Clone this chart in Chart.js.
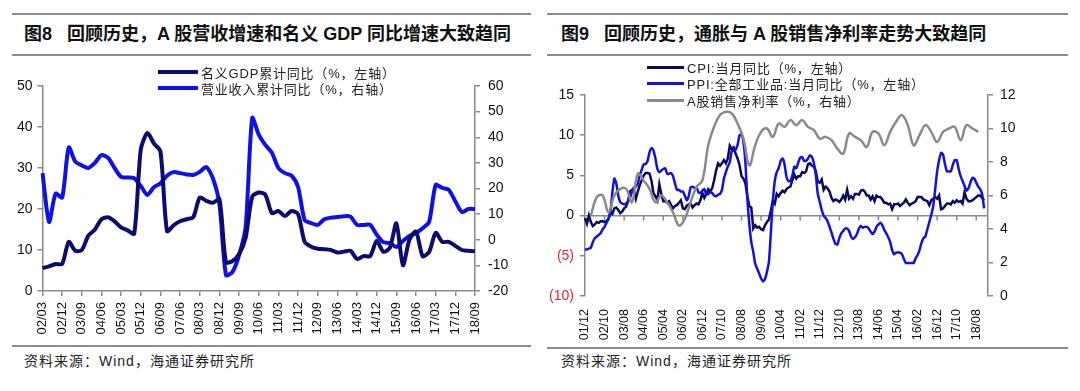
<!DOCTYPE html>
<html><head><meta charset="utf-8">
<script src="https://cdn.jsdelivr.net/npm/chart.js@4.4.1/dist/chart.umd.min.js"></script>
<style>
html,body{margin:0;padding:0;background:#fff;}
body{width:1080px;height:391px;position:relative;overflow:hidden;font-family:"Liberation Sans","Noto Sans CJK SC",sans-serif;}
.rule{position:absolute;height:2px;background:#8c8c8c;}
.title{position:absolute;font-weight:bold;font-size:18px;line-height:22px;color:#111;white-space:nowrap;}
.src{position:absolute;font-size:14px;line-height:18px;color:#222;white-space:nowrap;letter-spacing:1px;}
.lg{position:absolute;height:16px;display:flex;align-items:center;font-size:13px;color:#222;white-space:nowrap;letter-spacing:0.8px;font-family:"Liberation Sans","Noto Sans CJK SC",sans-serif;}
.sw{display:inline-block;margin-right:3px;}
.cw{position:absolute;top:56px;width:540px;height:290px;}
</style></head>
<body>
<div class="rule" style="left:12px;top:13px;width:519px"></div>
<div class="rule" style="left:12px;top:54px;width:519px"></div>
<div class="title" style="left:24px;top:23px">图8&nbsp;&nbsp;&nbsp;回顾历史，A 股营收增速和名义 GDP 同比增速大致趋同</div>
<div class="rule" style="left:547px;top:13px;width:521px"></div>
<div class="rule" style="left:547px;top:54px;width:521px"></div>
<div class="title" style="left:561px;top:23px">图9&nbsp;&nbsp;&nbsp;回顾历史，通胀与 A 股销售净利率走势大致趋同</div>

<canvas id="c1" class="cw" width="540" height="290" style="left:0px"></canvas>
<canvas id="c2" class="cw" width="540" height="290" style="left:540px"></canvas>

<div class="lg" style="left:158px;top:64px"><span class="sw" style="width:40px;height:4px;background:#0c0c6e"></span>名义GDP累计同比（%，左轴）</div>
<div class="lg" style="left:158px;top:80px"><span class="sw" style="width:40px;height:4px;background:#1010e8"></span>营业收入累计同比（%，右轴）</div>

<div class="lg" style="left:647px;top:59px"><span class="sw" style="width:37px;height:3px;background:#0a0a5c"></span>CPI:当月同比（%，左轴）</div>
<div class="lg" style="left:647px;top:75.5px"><span class="sw" style="width:37px;height:3px;background:#1212e0"></span>PPI:全部工业品:当月同比（%，左轴）</div>
<div class="lg" style="left:647px;top:92px"><span class="sw" style="width:37px;height:3px;background:#8a8a8a"></span>A股销售净利率（%，右轴）</div>

<div class="rule" style="left:12px;top:345px;width:519px;height:1.5px"></div>
<div class="rule" style="left:547px;top:347px;width:521px;height:1.5px"></div>
<div class="src" style="left:24px;top:352px">资料来源：Wind，海通证券研究所</div>
<div class="src" style="left:561px;top:352px">资料来源：Wind，海通证券研究所</div>

<script>
// ---------- Chart 1 data (quarterly, 02/03 .. 18/09) ----------
const quarterLabels = [];
for (let y = 2002; y <= 2018; y++) {
  for (const mm of ['03', '06', '09', '12']) {
    if (y === 2018 && mm === '12') break;
    quarterLabels.push(String(y).slice(2) + '/' + mm);
  }
}
const gdpYoY = [
  5.6, 6.0, 6.6, 6.6, 12.0, 9.8, 10.0, 13.5, 15.0, 17.5,
  18.0, 17.0, 15.5, 14.8, 14.0, 34.5, 38.5, 36.0, 34.0, 14.6,
  16.0, 17.0, 17.5, 18.0, 22.8, 22.0, 21.5, 22.4, 7.0, 7.3,
  9.0, 13.0, 23.0, 24.0, 23.5, 19.0, 19.5, 18.3, 19.5, 18.8,
  12.0, 10.8, 10.3, 10.2, 10.0, 9.4, 9.6, 9.8, 7.8, 8.5,
  8.5, 12.2, 9.6, 10.5, 16.5, 6.3, 12.5, 14.5, 8.5, 9.5,
  14.2, 12.0, 12.0, 11.0, 10.0, 9.8, 9.7
];
const revenueYoY = [
  26, 7, 18, 16.5, 36, 30.5, 29, 28, 30, 33,
  32, 28, 24.5, 24.3, 24, 21, 17.5, 20.5, 22, 25,
  26.4, 26, 25.5, 25.3, 26.5, 28.4, 24, 14, -13.8, -12.5,
  -6, 5, 47.5, 41, 37, 34, 28, 26, 25, 20.6,
  7.7, 6.5, 5.8, 8.0, 8.6, 8.9, 9.2, 9.0, 5.8, 5.8,
  5.8, 2, -0.9, -1.3, -2.8, -0.5, 1.5, 2.6, 4.5, 7,
  21.4, 20.2, 19.5, 15, 10.8, 12, 12
];

// ---------- Chart 2 data (monthly, 01/12 .. ) ----------
const monthLabels = [];
for (let k = 0; k < 207; k++) {
  const t = 2001 * 12 + 11 + k;
  const y = Math.floor(t / 12), mo = t % 12 + 1;
  monthLabels.push(String(y).slice(2) + '/' + String(mo).padStart(2, '0'));
}
const cpiYoY = [
  -0.3,
  -1.0, 0.0, -0.8, -1.3, -1.1, -0.8, -0.9, -0.7, -0.7, -0.8, -0.7, -0.4,
  0.4, 0.2, 0.9, 1.0, 0.7, 0.3, 0.5, 0.9, 1.1, 1.8, 3.0, 3.2,
  3.2, 2.1, 3.0, 3.8, 4.4, 5.0, 5.3, 5.3, 5.2, 4.3, 2.8, 2.4,
  1.9, 3.9, 2.7, 1.8, 1.8, 1.6, 1.8, 1.3, 0.9, 1.2, 1.3, 1.6,
  1.9, 0.9, 0.8, 1.2, 1.4, 1.5, 1.0, 1.3, 1.5, 1.4, 1.9, 2.8,
  2.2, 2.7, 3.3, 3.0, 3.4, 4.4, 5.6, 6.5, 6.2, 6.5, 6.9, 6.5,
  7.1, 8.7, 8.3, 8.5, 7.7, 7.1, 6.3, 4.9, 4.6, 4.0, 2.4, 1.2,
  1.0, -1.6, -1.2, -1.5, -1.4, -1.7, -1.8, -1.2, -0.8, -0.5, 0.6, 1.9,
  1.5, 2.7, 2.4, 2.8, 3.1, 2.9, 3.3, 3.5, 3.6, 4.4, 5.1, 4.6,
  4.9, 4.9, 5.4, 5.3, 5.5, 6.4, 6.5, 6.2, 6.1, 5.5, 4.2, 4.1,
  4.5, 3.2, 3.6, 3.4, 3.0, 2.2, 1.8, 2.0, 1.9, 1.7, 2.0, 2.5,
  2.0, 3.2, 2.1, 2.4, 2.1, 2.7, 2.7, 2.6, 3.1, 3.2, 3.0, 2.5,
  2.5, 2.0, 2.4, 1.8, 2.5, 2.3, 2.3, 2.0, 1.6, 1.6, 1.4, 1.5,
  0.8, 1.4, 1.4, 1.5, 1.2, 1.4, 1.6, 2.0, 1.6, 1.3, 1.5, 1.6,
  1.8, 2.3, 2.3, 2.3, 2.0, 1.9, 1.8, 1.3, 1.9, 2.1, 2.3, 2.1,
  2.5, 0.8, 0.9, 1.2, 1.5, 1.5, 1.4, 1.8, 1.6, 1.9, 1.7, 1.8,
  1.5, 2.9, 2.1, 1.8, 1.8, 1.9, 2.1, 2.3, 2.5, 2.5, 2.2, 1.9
];
const ppiYoY = [
  -4.2,
  -4.2, -4.1, -4.0, -3.3, -2.8, -2.6, -2.4, -2.2, -1.7, -1.4, -0.9, -0.4,
  0.4, 2.9, 4.6, 4.0, 2.5, 1.7, 1.5, 1.4, 1.5, 1.8, 2.2, 3.0,
  3.5, 3.6, 4.0, 5.0, 5.7, 6.4, 6.4, 6.8, 7.9, 8.4, 8.1, 7.1,
  5.8, 5.4, 5.6, 5.8, 5.9, 5.2, 5.2, 5.3, 4.9, 4.0, 3.2, 3.2,
  3.0, 3.0, 2.5, 1.9, 2.4, 3.5, 3.6, 3.4, 3.5, 2.9, 2.8, 3.1,
  3.3, 2.6, 2.7, 2.9, 2.8, 2.5, 2.4, 2.6, 2.7, 3.2, 4.6, 5.4,
  6.1, 6.6, 8.0, 8.1, 8.2, 8.8, 10.0, 10.1, 9.1, 6.6, 2.0, -1.1,
  -3.3, -4.5, -6.0, -6.6, -7.2, -7.8, -8.2, -7.9, -7.0, -5.8, -2.1, 1.7,
  4.3, 5.4, 5.9, 6.8, 7.1, 6.4, 4.8, 4.3, 4.3, 5.0, 6.1, 5.9,
  6.6, 7.2, 7.3, 6.8, 6.8, 7.1, 7.5, 7.3, 6.5, 5.0, 2.7, 1.7,
  0.7, 0.0, -0.3, -0.7, -1.4, -2.1, -2.9, -3.5, -3.6, -2.8, -2.2, -1.9,
  -1.6, -1.6, -1.9, -2.6, -2.9, -2.7, -2.3, -1.6, -1.3, -1.5, -1.4, -1.4,
  -1.6, -2.0, -2.3, -2.0, -1.4, -1.1, -0.9, -1.2, -1.8, -2.2, -2.7, -3.3,
  -4.3, -4.8, -4.6, -4.6, -4.6, -4.8, -5.4, -5.9, -5.9, -5.9, -5.9, -5.9,
  -5.3, -4.9, -4.3, -3.4, -2.8, -2.6, -1.7, -0.8, 0.1, 1.2, 3.3, 5.5,
  6.9, 7.8, 7.6, 6.4, 5.5, 5.5, 5.5, 6.3, 6.9, 6.9, 5.8, 4.9,
  4.3, 3.7, 3.1, 3.4, 4.1, 4.7, 4.6, 4.1, 3.6, 3.3, 2.7, 0.9
];
// quarterly net margin, one value every 3 months starting 01/12
const netMarginQ = [
  null, 4.8, 5.9, 6.0, 5.0, 6.0, 6.4, 6.4, 5.6, 7.3,
  6.9, 6.4, 5.6, 6.0, 5.6, 5.0, 4.2, 4.6, 5.6, 6.5,
  6.9, 9.0, 10.1, 10.8, 11.0, 10.9, 10.3, 9.4, 7.8, 9.0,
  9.8, 10.0, 9.5, 10.3, 10.1, 10.5, 10.2, 10.5, 10.1, 9.9,
  9.4, 9.5, 9.3, 8.8, 8.5, 9.7, 9.5, 9.3, 8.9, 9.8,
  9.7, 9.0, 9.8, 10.4, 10.8, 10.2, 9.0, 9.6, 10.2, 9.8,
  9.2, 9.8, 10.0, 10.1, 9.3, 10.2, 10.0, 9.8
];
const netMarginMonthly = monthLabels.map((_, m) =>
  (m % 3 === 0 && m / 3 < netMarginQ.length) ? netMarginQ[m / 3] : null);

// ---------- shared ----------
Chart.defaults.font.family = "'Liberation Sans', Arial, sans-serif";
Chart.defaults.color = '#111';
const AX = '#8a8a8a';
const clear = 'rgba(0,0,0,0)';

new Chart(document.getElementById('c1'), {
  type: 'line',
  data: {
    labels: quarterLabels,
    datasets: [
      { label: '名义GDP累计同比（%，左轴）', data: gdpYoY, yAxisID: 'y',
        borderColor: '#0c0c6e', borderWidth: 4, pointRadius: 0, tension: 0.25, fill: false },
      { label: '营业收入累计同比（%，右轴）', data: revenueYoY, yAxisID: 'y1',
        borderColor: '#1010e8', borderWidth: 4, pointRadius: 0, tension: 0.25, fill: false }
    ]
  },
  options: {
    responsive: false, animation: false, devicePixelRatio: 1,
    layout: { padding: { top: 30, left: 0, right: 0, bottom: 0 } },
    plugins: { legend: { display: false }, tooltip: { enabled: false } },
    scales: {
      x: {
        grid: { display: true, drawOnChartArea: false, drawTicks: true, tickLength: 5,
          color: ctx => (ctx.index % 3 === 0 ? AX : clear),
          tickColor: ctx => (ctx.index % 3 === 0 ? AX : clear), lineWidth: 1.5 },
        border: { display: true, color: AX, width: 1.5 },
        ticks: { autoSkip: false, maxRotation: 90, minRotation: 90, padding: 6,
          font: { size: 13 }, color: '#111',
          callback: (v, i) => (i % 3 === 0 ? quarterLabels[i] : '') },
        afterFit: s => { s.height = 55; }
      },
      y: {
        position: 'left', min: 0, max: 50,
        ticks: { stepSize: 10, font: { size: 14 }, padding: 5, color: '#111' },
        grid: { drawOnChartArea: false, tickLength: 5, color: AX, lineWidth: 1.5 },
        border: { color: AX, width: 1.5 },
        afterFit: s => { s.width = 42.5; }
      },
      y1: {
        position: 'right', min: -20, max: 60,
        ticks: { stepSize: 10, font: { size: 14 }, padding: 8, color: '#111' },
        grid: { drawOnChartArea: false, tickLength: 5, color: AX, lineWidth: 1.5 },
        border: { color: AX, width: 1.5 },
        afterFit: s => { s.width = 65; }
      }
    }
  }
});

const zeroTicks = {
  id: 'zeroTicks',
  beforeDatasetsDraw(chart) {
    const { ctx, scales } = chart;
    const x = scales.x, y = scales.y;
    const y0 = y.getPixelForValue(0);
    ctx.save();
    ctx.strokeStyle = AX; ctx.lineWidth = 1.5;
    ctx.beginPath();
    monthLabels.forEach((l, i) => {
      if (i % 10 === 0 && i > 0) {
        const px = x.getPixelForValue(i);
        ctx.moveTo(px, y0); ctx.lineTo(px, y0 + 5);
      }
    });
    ctx.stroke();
    ctx.restore();
  }
};

new Chart(document.getElementById('c2'), {
  type: 'line',
  data: {
    labels: monthLabels,
    datasets: [
      { label: 'CPI:当月同比（%，左轴）', data: cpiYoY, yAxisID: 'y', order: 3,
        borderColor: '#0a0a5c', borderWidth: 2.5, pointRadius: 0, tension: 0, fill: false },
      { label: 'PPI:全部工业品:当月同比（%，左轴）', data: ppiYoY, yAxisID: 'y', order: 2,
        borderColor: '#1212e0', borderWidth: 2.5, pointRadius: 0, tension: 0.2, fill: false },
      { label: 'A股销售净利率（%，右轴）', data: netMarginMonthly, yAxisID: 'y1', order: 1,
        borderColor: '#8a8a8a', borderWidth: 2.5, pointRadius: 0, tension: 0.4,
        spanGaps: true, fill: false }
    ]
  },
  options: {
    responsive: false, animation: false, devicePixelRatio: 1,
    layout: { padding: { top: 39, left: 0, right: 0, bottom: 0 } },
    plugins: { legend: { display: false }, tooltip: { enabled: false } },
    scales: {
      x: {
        grid: { display: false },
        border: { display: false },
        ticks: { autoSkip: false, maxRotation: 90, minRotation: 90, padding: 5,
          font: { size: 12.5 }, color: '#111',
          callback: (v, i) => (i % 10 === 0 ? monthLabels[i] : '') },
        afterFit: s => { s.height = 50; }
      },
      y: {
        position: 'left', min: -10, max: 15,
        ticks: { stepSize: 5, font: { size: 14 }, padding: 6,
          color: ctx => (ctx.tick && ctx.tick.value < 0 ? '#e2262b' : '#111'),
          callback: v => (v < 0 ? '(' + (-v) + ')' : String(v)) },
        grid: { drawOnChartArea: true, tickLength: 5,
          color: ctx => (ctx.tick && ctx.tick.value === 0 ? AX : clear),
          tickColor: AX, lineWidth: 1.5 },
        border: { color: AX, width: 1.5 },
        afterFit: s => { s.width = 45; }
      },
      y1: {
        position: 'right', min: 0, max: 12,
        ticks: { stepSize: 2, font: { size: 14 }, padding: 7, color: '#111' },
        grid: { drawOnChartArea: false, tickLength: 5, color: AX, lineWidth: 1.5 },
        border: { color: AX, width: 1.5 },
        afterFit: s => { s.width = 92; }
      }
    }
  },
  plugins: [zeroTicks]
});
</script>
</body></html>
